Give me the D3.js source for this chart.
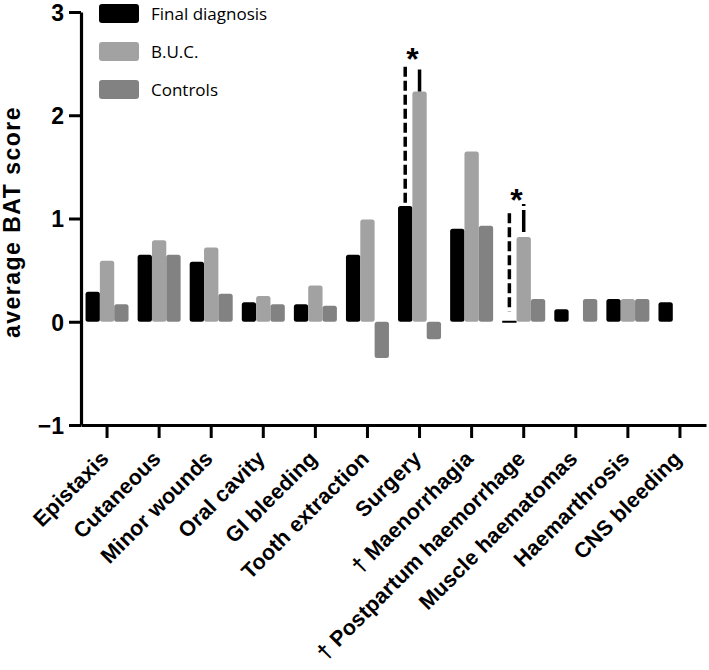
<!DOCTYPE html>
<html>
<head>
<meta charset="utf-8">
<script src="https://cdn.jsdelivr.net/npm/d3@7"></script>
<style>
  html, body { margin: 0; padding: 0; background: #fff; }
  svg { display: block; }
</style>
</head>
<body>
<svg id="chart" width="709" height="670"></svg>
<script>
const categories = ["Epistaxis", "Cutaneous", "Minor wounds", "Oral cavity", "GI bleeding",
  "Tooth extraction", "Surgery", "† Maenorrhagia", "† Postpartum haemorrhage",
  "Muscle haematomas", "Haemarthrosis", "CNS bleeding"];
const seriesNames = ["Final diagnosis", "B.U.C.", "Controls"];
const seriesColors = ["#000000", "#a2a2a2", "#828282"];
const finalDiagnosis = [0.29, 0.65, 0.58, 0.19, 0.17, 0.65, 1.12, 0.90, 0, 0.12, 0.22, 0.19];
const buc            = [0.59, 0.79, 0.72, 0.25, 0.35, 0.99, 2.23, 1.65, 0.82, null, 0.22, null];
const controls       = [0.17, 0.65, 0.27, 0.17, 0.155, -0.35, -0.17, 0.93, 0.22, 0.22, 0.22, null];
const yTicks = [-1, 0, 1, 2, 3];
// significance markers
const sigCats = ["Surgery", "† Postpartum haemorrhage"];
const sigLeftTop = [2.47, 1.05];
const sigLeftBottom = [1.12, 0.10];
const sigRightTop = [2.45, 1.14];
const sigRightBottom = [2.23, 0.87];
const sigStar = [2.60, 1.24];

const allSeries = [finalDiagnosis, buc, controls];

const svg = d3.select("#chart");
const y = d3.scaleLinear().domain([-1, 3]).range([425, 12]);
const x = d3.scaleBand().domain(categories).range([81, 706]).padding(0);
const xs = d3.scaleBand().domain(d3.range(3)).range([-21.5, 21.5]).padding(0);

// bars
const barData = [];
categories.forEach((c, i) => {
  allSeries.forEach((s, j) => {
    if (s[i] !== null) barData.push({ cat: c, s: j, v: s[i] });
  });
});
svg.append("g").selectAll("rect").data(barData).join("rect")
  .attr("x", d => x(d.cat) + x.bandwidth() / 2 + xs(d.s))
  .attr("width", xs.bandwidth())
  .attr("y", d => d.v === 0 ? y(0) - 1 : Math.min(y(0), y(d.v)))
  .attr("height", d => d.v === 0 ? 2 : Math.abs(y(d.v) - y(0)))
  .attr("rx", d => d.v === 0 ? 0 : 2.5)
  .attr("fill", d => seriesColors[d.s]);

// significance markers
const sig = svg.append("g");
sigCats.forEach((c, k) => {
  const cx = x(c) + x.bandwidth() / 2;
  const lx = cx + xs(0) + xs.bandwidth() / 2;
  const rx = cx + xs(1) + xs.bandwidth() / 2;
  sig.append("line").attr("x1", lx).attr("x2", lx)
    .attr("y1", y(sigLeftTop[k])).attr("y2", y(sigLeftBottom[k]))
    .attr("stroke", "#000").attr("stroke-width", 3.5).attr("stroke-dasharray", "10,4");
  sig.append("line").attr("x1", rx).attr("x2", rx)
    .attr("y1", y(sigRightBottom[k])).attr("y2", y(sigRightTop[k]))
    .attr("stroke", "#000").attr("stroke-width", 3.5).attr("stroke-dasharray", "22,4");
  sig.append("text").attr("x", (lx + rx) / 2).attr("y", y(sigStar[k]) + 17)
    .attr("text-anchor", "middle").attr("font-family", "Liberation Sans, Arial, sans-serif")
    .attr("font-weight", "bold").attr("font-size", 32).attr("fill", "#000").text("*");
});

// y axis
const yAxis = d3.axisLeft(y).tickValues(yTicks).tickSize(12).tickSizeOuter(0)
  .tickFormat(d => d < 0 ? "\u2212" + Math.abs(d) : String(d));
const gy = svg.append("g").attr("transform", "translate(81,0)").call(yAxis);
gy.select(".domain").attr("stroke-width", 3.2).attr("stroke", "#000");
gy.selectAll(".tick line").attr("stroke-width", 3).attr("stroke", "#000");
gy.selectAll(".tick text").attr("x", -17).attr("dy", "0.36em")
  .attr("font-family", "Liberation Sans, Arial, sans-serif").attr("font-weight", "bold")
  .attr("font-size", 23).attr("fill", "#000");

// x axis
const xAxis = d3.axisBottom(x).tickSize(13).tickSizeOuter(0);
const gx = svg.append("g").attr("transform", "translate(0," + y(-1) + ")").call(xAxis);
gx.select(".domain").attr("stroke-width", 3.2).attr("stroke", "#000");
gx.selectAll(".tick line").attr("stroke-width", 3).attr("stroke", "#000");
gx.selectAll(".tick text")
  .attr("y", 0).attr("dy", 0)
  .attr("transform", "translate(3,35) rotate(-45)")
  .attr("text-anchor", "end")
  .attr("font-family", "Liberation Sans, Arial, sans-serif").attr("font-weight", "bold")
  .attr("font-size", 21.5).attr("letter-spacing", "0.2px").attr("fill", "#000");

// y axis title
svg.append("text")
  .attr("transform", "translate(20,222) rotate(-90)")
  .attr("text-anchor", "middle")
  .attr("font-family", "Liberation Sans, Arial, sans-serif").attr("font-weight", "bold")
  .attr("font-size", 23).attr("letter-spacing", "1.5px").attr("fill", "#000")
  .text("average BAT score");

// legend
const legend = svg.append("g");
seriesNames.forEach((n, j) => {
  legend.append("rect").attr("x", 99).attr("y", 4 + j * 38).attr("width", 40).attr("height", 19)
    .attr("rx", 3).attr("fill", seriesColors[j]);
  legend.append("text").attr("x", 151).attr("y", 20 + j * 38)
    .attr("font-family", "'Open Sans', sans-serif").attr("font-size", 17)
    .attr("fill", "#000").text(n);
});
</script>
</body>
</html>
